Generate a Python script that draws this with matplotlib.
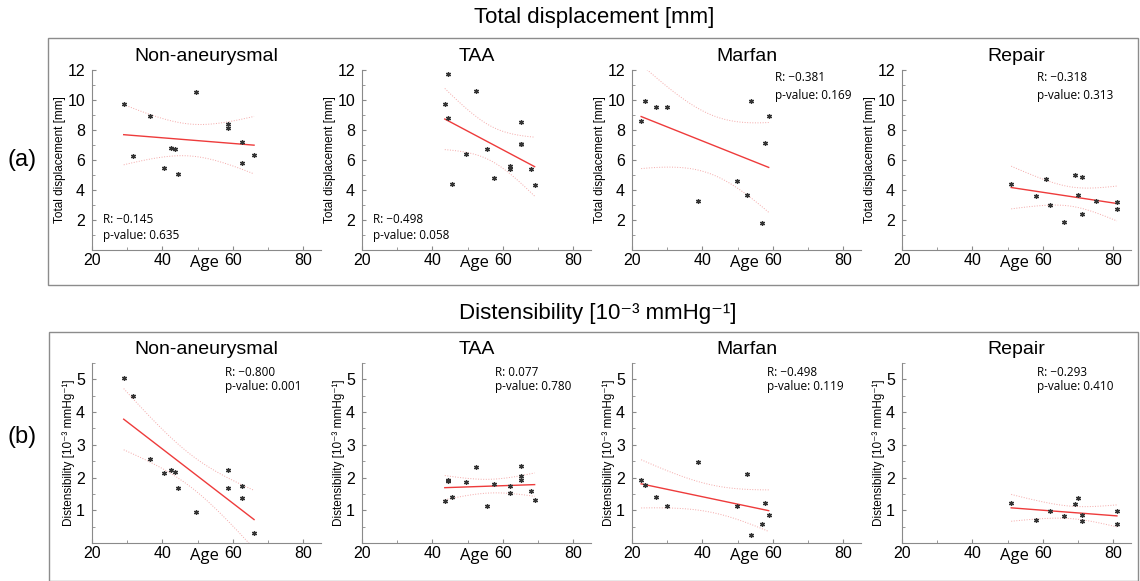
#!/usr/bin/env python3
"""
Age vs total displacement / distensibility, four patient groups, linear fit + 95% CI.
"""

import matplotlib

matplotlib.use("Agg")
import matplotlib.pyplot as plt
import numpy as np
from matplotlib.patches import Rectangle
from matplotlib.ticker import MultipleLocator

plt.rcParams["font.family"] = ["Liberation Sans", "DejaVu Sans"]

groups = ["Non-aneurysmal", "TAA", "Marfan", "Repair"]

# --- total displacement [mm] ---
disp_age = [
    [29, 31.5, 36.5, 40.5, 42.5, 43.5, 44.5, 49.5, 58.5, 58.5, 62.5, 62.5, 66],
    [43.5, 44.5, 44.5, 45.5, 49.5, 52.5, 55.5, 57.5, 62, 62, 65, 65, 65, 68, 69],
    [22.6, 23.8, 26.8, 29.8, 38.7, 49.7, 52.7, 53.8, 56.8, 57.8, 58.8],
    [51, 58, 61, 62, 66, 69, 70, 71, 71, 75, 81, 81],
]
disp_val = [
    [9.7, 6.25, 8.9, 5.45, 6.8, 6.7, 5.05, 10.55, 8.4, 8.1, 7.2, 5.8, 6.35],
    [9.7, 11.73, 8.78, 4.38, 6.37, 10.6, 6.75, 4.82, 5.62, 5.38, 8.56, 7.06, 7.04, 5.38, 4.34],
    [8.6, 9.93, 9.53, 9.53, 3.25, 4.6, 3.7, 9.96, 1.8, 7.15, 8.96],
    [4.42, 3.6, 4.71, 2.99, 1.88, 4.98, 3.65, 4.87, 2.43, 3.27, 3.2, 2.74],
]
disp_r = ["\u22120.145", "\u22120.498", "\u22120.381", "\u22120.318"]
disp_p = ["0.635", "0.058", "0.169", "0.313"]

# --- distensibility [10^-3 mmHg^-1] ---
dist_age = [
    [29, 31.5, 36.5, 40.5, 42.5, 43.5, 44.5, 49.5, 58.5, 58.5, 62.5, 62.5, 66],
    [43.5, 44.5, 44.5, 45.5, 49.5, 52.5, 55.5, 57.5, 62, 62, 65, 65, 65, 68, 69],
    [22.6, 23.8, 26.8, 29.8, 38.7, 49.7, 52.7, 53.8, 56.8, 57.8, 58.8],
    [51, 58, 62, 66, 69, 70, 71, 71, 81, 81],
]
dist_val = [
    [5.03, 4.48, 2.58, 2.15, 2.23, 2.16, 1.68, 0.95, 2.22, 1.69, 1.74, 1.37, 0.30],
    [1.27, 1.92, 1.88, 1.42, 1.85, 2.31, 1.14, 1.81, 1.73, 1.52, 2.35, 2.05, 1.94, 1.59, 1.30],
    [1.91, 1.78, 1.40, 1.13, 2.48, 1.13, 2.10, 0.24, 0.59, 1.22, 0.86],
    [1.22, 0.71, 0.97, 0.83, 1.18, 1.36, 0.85, 0.66, 0.99, 0.58],
]
dist_r = ["\u22120.800", "0.077", "\u22120.498", "\u22120.293"]
dist_p = ["0.001", "0.780", "0.119", "0.410"]

# two-sided 95% t critical values by degrees of freedom
T975 = {7: 2.365, 8: 2.306, 9: 2.262, 10: 2.228, 11: 2.201, 12: 2.179, 13: 2.160, 14: 2.145}

W, H = 1140, 581
AX_LEFT = [92, 362, 632, 902]
AX_W = 229
AX_H = 180
SOFT = ["Open Sans", "DejaVu Sans"]


def px_axes(left, top):
    return [left / W, (H - top - AX_H) / H, AX_W / W, AX_H / H]


def fit_and_ci(x, y):
    x = np.asarray(x, float)
    y = np.asarray(y, float)
    n = len(x)
    slope, icpt = np.polyfit(x, y, 1)
    resid = y - (slope * x + icpt)
    s = np.sqrt(np.sum(resid**2) / (n - 2))
    xm = x.mean()
    sxx = np.sum((x - xm) ** 2)
    xs = np.linspace(x.min(), x.max(), 100)
    ys = slope * xs + icpt
    half = T975[n - 2] * s * np.sqrt(1.0 / n + (xs - xm) ** 2 / sxx)
    return xs, ys, ys - half, ys + half


def draw_panel(ax, x, y, title, r_txt, p_txt, txt_pos, ylim, ylabel, ymajor, yminor):
    xs, ys, lo, hi = fit_and_ci(x, y)
    ax.plot(xs, hi, color="#f4a8a8", lw=0.7, ls=":")
    ax.plot(xs, lo, color="#f4a8a8", lw=0.7, ls=":")
    ax.plot(xs, ys, color="#ee3b3b", lw=1.0)
    ax.plot(x, y, ls="none", marker=(6, 2, 0), ms=3.6, mew=0.9, color="#333333")

    ax.set_xlim(20, 85)
    ax.set_ylim(*ylim)
    ax.xaxis.set_minor_locator(MultipleLocator(10))
    ax.yaxis.set_minor_locator(MultipleLocator(yminor))
    ax.set_xticks([20, 40, 60, 80])
    ax.set_yticks([v for v in np.arange(ymajor, ylim[1] + 1e-9, ymajor)])

    for side in ("top", "right"):
        ax.spines[side].set_visible(False)
    for side in ("left", "bottom"):
        ax.spines[side].set_color("#8a8a8a")
        ax.spines[side].set_linewidth(0.8)
    ax.tick_params(which="both", direction="in", color="#8a8a8a", labelsize=11.5)
    ax.tick_params(which="major", length=3)
    ax.tick_params(which="minor", length=2)
    ax.tick_params(axis="y", pad=5)
    ax.tick_params(axis="x", pad=2)

    ax.text(0.5, 1.075, title, transform=ax.transAxes, ha="center", va="center", fontsize=14)
    ax.set_xlabel("Age", fontsize=12, family=SOFT)
    ax.xaxis.set_label_coords(0.49, -0.03)
    ax.set_ylabel(ylabel, fontsize=8.5, labelpad=1)

    tx, ty1, ty2 = txt_pos
    ax.text(tx, ty1, "R: " + r_txt, transform=ax.transAxes, va="center", fontsize=8.5, family=SOFT)
    ax.text(tx, ty2, "p-value: " + p_txt, transform=ax.transAxes, va="center", fontsize=8.5,
            family=SOFT)


fig = plt.figure(figsize=(W / 100, H / 100), dpi=100)

# group boxes
fig.add_artist(Rectangle((48 / W, 1 - 285 / H), 1090 / W, 247 / H, transform=fig.transFigure,
                         fill=False, edgecolor="#8c8c8c", lw=1.0))
fig.add_artist(Rectangle((49 / W, 1 - 581 / H), 1089 / W, 249 / H, transform=fig.transFigure,
                         fill=False, edgecolor="#8c8c8c", lw=1.0))

fig.text(594 / W, 1 - 17 / H, "Total displacement [mm]", ha="center", va="center", fontsize=16)
fig.text(598 / W, 1 - 313 / H, "Distensibility [10\u207b\u00b3 mmHg\u207b\u00b9]", ha="center",
         va="center", fontsize=16)
fig.text(22 / W, 1 - 160 / H, "(a)", ha="center", va="center", fontsize=17)
fig.text(22 / W, 1 - 437 / H, "(b)", ha="center", va="center", fontsize=17)

disp_txt = [(0.048, 0.167, 0.083), (0.048, 0.167, 0.083), (0.624, 0.956, 0.861), (0.59, 0.956, 0.861)]
dist_txt = [(0.58, 0.95, 0.867), (0.58, 0.95, 0.867), (0.59, 0.95, 0.867), (0.59, 0.95, 0.867)]

for i, g in enumerate(groups):
    ax = fig.add_axes(px_axes(AX_LEFT[i], 70))
    draw_panel(ax, disp_age[i], disp_val[i], g, disp_r[i], disp_p[i], disp_txt[i],
               (0, 12), "Total displacement [mm]", 2, 1)

    ax = fig.add_axes(px_axes(AX_LEFT[i], 363))
    draw_panel(ax, dist_age[i], dist_val[i], g, dist_r[i], dist_p[i], dist_txt[i],
               (0, 5.5), "Distensibility [10\u207b\u00b3 mmHg\u207b\u00b9]", 1, 0.5)

fig.savefig("out.png", dpi=100)
